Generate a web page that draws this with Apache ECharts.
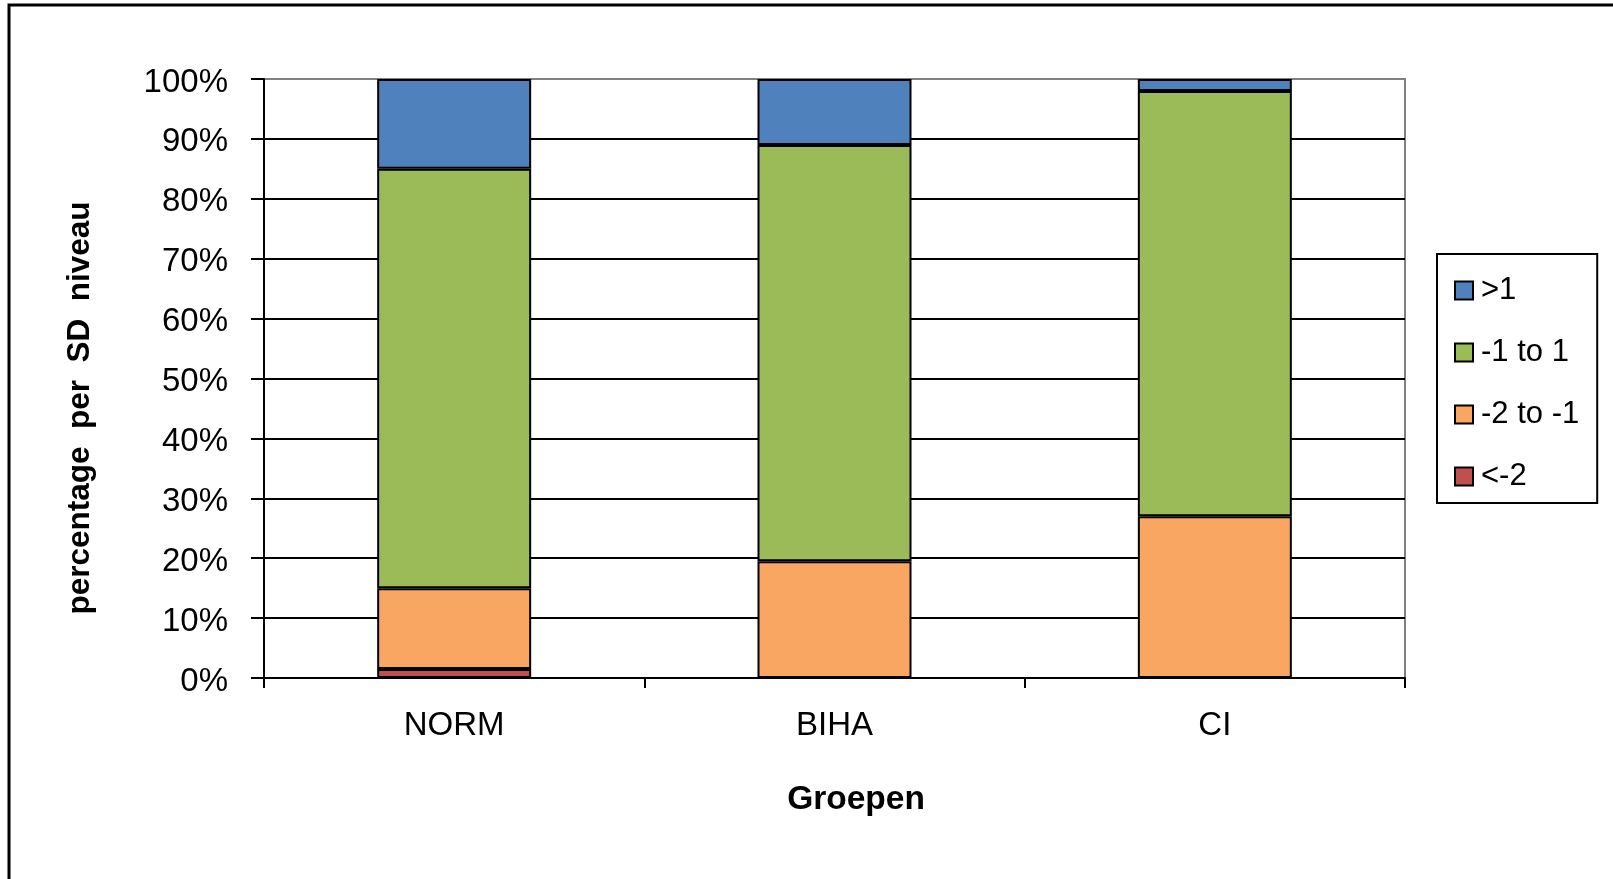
<!DOCTYPE html>
<html>
<head>
<meta charset="utf-8">
<script src="https://cdn.jsdelivr.net/npm/echarts@6/dist/echarts.min.js"></script>
<style>
html,body{margin:0;padding:0;background:#fff;}
#chart{width:1613px;height:879px;}
</style>
</head>
<body>
<div id="chart"></div>
<script>
const categories = ['NORM', 'BIHA', 'CI'];
const seriesNames = ['<-2', '-2 to -1', '-1 to 1', '>1'];
const lessThanMinus2 = [1.5, 0, 0];
const minus2ToMinus1 = [13.5, 19.5, 27];
const minus1To1 = [70, 69.5, 71];
const greaterThan1 = [15, 11, 2];
const yTickLabels = ['0%','10%','20%','30%','40%','50%','60%','70%','80%','90%','100%'];
const legendOrder = ['>1', '-1 to 1', '-2 to -1', '<-2'];

const colors = {'<-2':'#C0504D','-2 to -1':'#F8A662','-1 to 1':'#9BBB59','>1':'#4F81BD'};
const values = {'<-2':lessThanMinus2,'-2 to -1':minus2ToMinus1,'-1 to 1':minus1To1,'>1':greaterThan1};
const FONT = 'Liberation Sans, Arial, sans-serif';

const chart = echarts.init(document.getElementById('chart'), null, {renderer:'canvas'});
chart.setOption({
  animation:false,
  backgroundColor:'#fff',
  grid:{left:264, top:79, width:1141, height:599, show:true, borderColor:'#808080', borderWidth:2, backgroundColor:'transparent', containLabel:false},
  legend:{
    data:legendOrder, orient:'vertical', left:1437, top:254,
    padding:[21,18,11,17], itemGap:31, itemWidth:18, itemHeight:18, icon:'rect',
    borderColor:'#000', borderWidth:2, backgroundColor:'#fff',
    textStyle:{fontFamily:FONT, fontSize:31, color:'#000', lineHeight:30, padding:[0,0,0,3]}
  },
  xAxis:{
    type:'category', data:categories,
    axisLine:{lineStyle:{color:'#000', width:2}},
    axisTick:{show:true, length:10, alignWithLabel:false, lineStyle:{color:'#000', width:2}},
    axisLabel:{fontFamily:FONT, fontSize:33, color:'#000', margin:31}
  },
  yAxis:{
    type:'value', min:0, max:100, interval:10,
    axisLine:{show:true, lineStyle:{color:'#000', width:2}},
    axisTick:{show:true, length:13, lineStyle:{color:'#000', width:2}},
    axisLabel:{fontFamily:FONT, fontSize:33, color:'#000', margin:36,
      formatter:function(v){return '{v|' + yTickLabels[Math.round(v/10)] + '}';},
      rich:{v:{fontFamily:FONT, fontSize:33, color:'#000', padding:[7,0,0,0]}}},
    splitLine:{show:true, showMaxLine:false, lineStyle:{color:'#000', width:2}}
  },
  series: seriesNames.map(function(n){
    return {
      name:n, type:'bar', stack:'total', barWidth:154,
      data: values[n],
      itemStyle:{color:colors[n], borderColor:'#000', borderWidth:2}
    };
  }),
  graphic:[
    {type:'polyline', shape:{points:[[9,900],[9,5],[1640,5]]}, style:{stroke:'#000', lineWidth:3, fill:null}},
    {type:'text', x:80, y:408, rotation:Math.PI/2,
      style:{text:'percentage  per  SD  niveau', font:'bold 31.5px '+FONT, fill:'#000', align:'center', verticalAlign:'middle'}},
    {type:'text', x:856, y:800,
      style:{text:'Groepen', font:'bold 33.5px '+FONT, fill:'#000', align:'center', verticalAlign:'middle'}}
  ]
});
</script>
</body>
</html>
